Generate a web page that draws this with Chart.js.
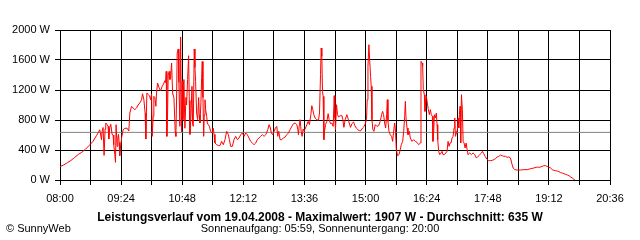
<!DOCTYPE html>
<html>
<head>
<meta charset="utf-8">
<script src="https://cdn.jsdelivr.net/npm/chart.js@4"></script>
<style>
  body { margin: 0; background: #fff; }
  #wrap { position: relative; width: 640px; height: 240px; font-family: "Liberation Sans", Arial, sans-serif; font-size: 11px; color: #000; }
  #wrap canvas { position: absolute; left: 0; top: 0; }
  .txt { position: absolute; line-height: 13px; white-space: nowrap; }
  #title { left: 0; width: 640px; top: 211px; text-align: center; font-weight: bold; font-size: 12px; }
  #sun { left: 0; width: 640px; top: 222px; text-align: center; }
  #copy { left: 6px; top: 222px; }
</style>
</head>
<body>
<div id="wrap">
  <canvas id="chart" width="640" height="240"></canvas>
  <div class="txt" id="title">Leistungsverlauf vom 19.04.2008 - Maximalwert: 1907 W - Durchschnitt: 635 W</div>
  <div class="txt" id="sun">Sonnenaufgang: 05:59, Sonnenuntergang: 20:00</div>
  <div class="txt" id="copy">© SunnyWeb</div>
</div>
<script>
// minutes after 08:00 and the power (W)
const minutes = [
  0,5,10,15,20,25,30,35,40,45,
  50,52.3,54.7,57,57.8,59.2,60.6,62,62.9,64.7,
  66.1,67.1,68.4,69.8,71.6,73,73.9,75.3,76.3,77.1,
  78.5,79.5,80.4,81.3,82.2,83.2,85,86.8,89.1,92.3,
  94.6,96,98.3,100.5,102.9,105.2,107.4,109.7,112.1,113.5,
  115.3,117,118,119.4,121.2,123.1,124.5,125.9,126.7,128.1,
  129,130.4,131.8,132.7,134.1,136.3,138.2,140.5,141.8,144.2,
  145.1,146,146.9,147.8,148.7,150.1,151.1,152,153.4,154.8,
  156.6,158.4,159.3,160.3,161.1,162.5,163.4,164.8,165.8,167.2,
  168,169,170.3,171.7,173.1,174,175.4,176.8,177.7,178.6,
  180,181.4,182.3,183.2,184.5,185.5,186.4,187.8,189.2,190.6,
  191.4,192.4,193.7,194.7,195.5,196.5,197.5,198.3,199.3,200.2,
  201.6,202.5,203.8,205.2,207.1,208.9,210.7,211.7,213,215.4,
  217.6,219.9,222.2,224.5,226.8,229.1,231.4,232.8,234.6,236.9,
  239.2,241.5,243.8,246.1,248.4,250.7,253,255.3,257.5,259.8,
  262.1,264.4,266.7,269,271.3,273.6,275.9,278.2,280.5,282.8,
  285.6,287.4,289.2,290.6,292.4,294.3,296.1,298,299.3,300.7,
  302.5,304.8,307.1,309.4,311.7,314,316.3,318.6,320.9,323.2,
  325.5,326.9,327.8,328.7,330.1,331.5,332.8,334.2,335.6,337.4,
  339.3,341.1,342.9,344.8,346.1,347.5,348.9,350.7,353,355.3,
  356.7,358.1,359,359.9,360.8,361.7,362.7,363.6,365,366.8,
  368.6,370,371.8,373.7,375.5,376.9,377.8,378.7,380.1,381.5,
  382.9,385.1,387.5,388.8,390.2,392,394.3,395.7,397.5,399.4,
  401.2,403.5,405.3,407.2,409.5,411.3,413.6,415.9,418.2,420,
  421.4,422.3,423.3,424.6,425.5,426.9,427.8,428.8,430.1,431.5,
  433.3,435.6,437.9,440.2,442.1,443.4,444.8,446.2,447.6,449,
  449.9,450.8,452.2,454,455.8,457.2,458.6,460,460.9,462.3,
  464.1,465.9,467.8,469.1,471,472.4,473.8,474.7,475.6,477,
  478.3,480.2,481.5,483.8,486.1,488.4,490.7,493,495.3,496.2,
  497.6,498.5,499.4,500.8,501.7,502.6,503.6,504.9,506.3,507.7,
  509.1,510.4,511.8,512.7,513.7,514.6,516,517.3,518.3,519.2,
  520.5,521.9,523.8,525.1,526.5,528.3,530.2,532,533.4,534.8,
  536.2,537.5,538.9,540.3,541.7,542.6,543.5,544.9,546.2,547.2,
  548.1,549,549.9,550.8,551.8,553.1,554.1,555.4,556.8,558.2,
  559.6,560.9,563.2,565.5,567.8,570.1,572.4,574.7,577,579.3,
  580.7,582.5,584.3,586.6,588.9,591.7,594,596.3,598.6,600.9,
  603.2,605.5,607.8,610.1,612.3,614.6,616.9,619.2,621.5,622.9,
  625.2,628.4,633,637.6,642.2,646.8,651.4,656,658.2,660.5,
  662.8,665.1,667.4,669.7,672,674.3,676.6,678.9,681.2,683.5,
  685.8,688.1,690.4,692.7,695,697.3,699.6,701.9,704.1,706.4,
  707.8
];
const watts = [
  180,200,230,260,300,340,370,410,460,510,
  590,626,670,537,640,700,328,680,760,740,
  716,546,700,743,608,600,471,342,235,738,
  449,560,608,500,324,440,582,670,690,690,
  653,893,982,960,938,960,1000,1027,1070,1150,
  1070,893,546,1160,1140,1120,1070,1150,582,849,
  1116,1100,982,1160,1293,1227,1190,1250,1270,1324,
  1300,1448,582,849,1400,1448,1340,1360,1560,1160,
  1100,640,582,1120,1693,1747,1300,716,1907,640,
  1315,805,1340,690,1100,1000,1340,1657,1060,608,
  849,1250,738,716,1747,1500,1315,893,805,1100,
  870,760,1030,1367,1580,1100,582,870,1070,938,
  849,760,738,716,650,626,690,608,493,471,
  460,458,515,471,538,649,604,538,449,449,
  538,582,538,560,604,627,582,627,604,560,
  515,493,471,493,538,560,582,604,582,604,
  671,738,693,627,604,649,693,715,582,649,
  538,538,560,573,604,627,671,715,751,760,
  738,671,604,715,804,649,582,680,649,693,
  738,782,738,871,991,938,871,826,804,795,
  893,1404,1760,1649,1182,1115,538,649,738,782,
  884,804,751,760,715,1124,827,671,1004,871,
  840,858,858,804,702,804,871,827,760,702,
  751,773,724,693,671,658,658,693,715,760,
  826,1071,1515,1804,1626,1382,1249,804,671,649,
  738,715,724,782,871,915,871,760,693,871,
  1071,782,649,604,582,515,649,760,693,404,
  324,338,404,471,515,649,849,1049,827,693,
  604,649,560,515,538,515,502,471,493,1582,
  1560,1516,1204,1138,915,1071,1115,1027,938,871,
  938,871,849,515,649,871,827,893,738,538,
  382,338,360,382,338,338,360,382,515,449,
  493,493,560,582,693,826,582,627,671,827,
  693,871,982,493,1138,938,515,493,427,493,
  404,338,360,338,360,338,293,316,338,360,
  382,351,316,280,258,258,262,271,284,307,
  316,333,324,316,316,302,307,293,204,160,
  138,133,133,138,138,151,160,173,169,173,
  182,191,191,182,169,160,138,129,124,120,
  111,98,93,84,76,67,58,40,27,9,
  0
];
const average = 635;
const startMinute = 8 * 60;     // 08:00
const endMinute = 756;          // 20:36 relative to start
const gridStep = 42;            // grid every 42 min, label every 84
const yTicks = [0, 400, 800, 1200, 1600, 2000];

function hhmm(m) {
  const t = startMinute + m;
  const h = Math.floor(t / 60), mm = t % 60;
  return String(h).padStart(2, '0') + ':' + String(mm).padStart(2, '0');
}

Chart.defaults.font.family = '"Liberation Sans", Arial, sans-serif';
Chart.defaults.font.size = 11;
Chart.defaults.color = '#000';

const ctx = document.getElementById('chart').getContext('2d');
new Chart(ctx, {
  type: 'line',
  data: {
    datasets: [
      {
        label: 'Leistung',
        data: minutes.map((m, i) => ({ x: m, y: watts[i] })),
        borderColor: '#ff0000',
        borderWidth: 1,
        pointRadius: 0,
        tension: 0,
        fill: false
      },
      {
        label: 'Durchschnitt',
        data: [{ x: 0, y: average }, { x: endMinute, y: average }],
        borderColor: '#808080',
        borderWidth: 1,
        pointRadius: 0,
        fill: false
      }
    ]
  },
  options: {
    responsive: false,
    animation: false,
    events: [],
    layout: { padding: { top: 30, right: 30, left: 0, bottom: 0 } },
    plugins: { legend: { display: false }, tooltip: { enabled: false } },
    scales: {
      x: {
        type: 'linear',
        min: 0,
        max: endMinute,
        afterFit: s => { s.height = 60; },
        afterBuildTicks: s => {
          s.ticks = [];
          for (let m = 0; m <= endMinute; m += gridStep) s.ticks.push({ value: m });
        },
        ticks: {
          autoSkip: false,
          maxRotation: 0,
          padding: 7,
          callback: v => (v % (gridStep * 2) === 0 ? hhmm(v) : '')
        },
        grid: { color: '#000', tickLength: 5, lineWidth: 1 },
        border: { color: '#000' }
      },
      y: {
        min: 0,
        max: 2000,
        afterFit: s => { s.width = 60; },
        afterBuildTicks: s => { s.ticks = yTicks.map(v => ({ value: v })); },
        ticks: { padding: 5, callback: v => v + ' W' },
        grid: { color: '#000', tickLength: 5, lineWidth: 1 },
        border: { color: '#000' }
      }
    }
  }
});
</script>
</body>
</html>
